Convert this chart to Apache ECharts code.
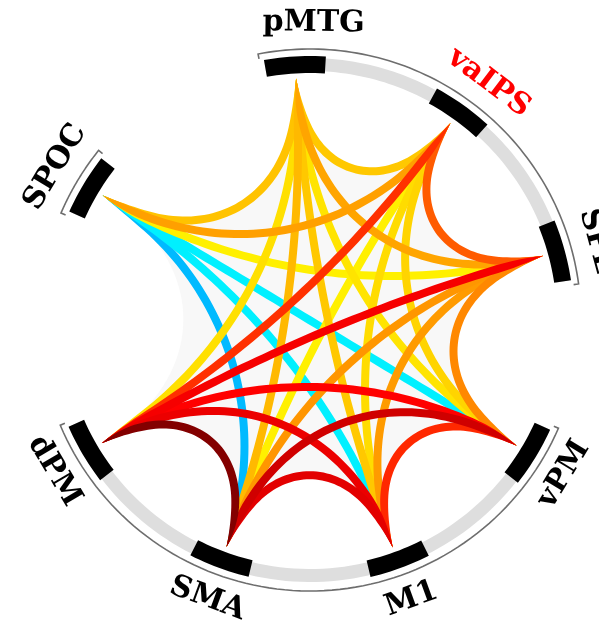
<!DOCTYPE html>
<html><head><meta charset="utf-8">
<script src="https://cdn.jsdelivr.net/npm/echarts/dist/echarts.min.js"></script>
<style>html,body{margin:0;padding:0;background:#fff}#chart{width:599px;height:623px}</style>
</head><body><div id="chart"></div>
<script>
// ---------------- data ----------------
const regions = ['pMTG', 'vaIPS', 'SPL', 'vPM', 'M1', 'SMA', 'dPM', 'SPOC'];
const highlightedRegions = ['vaIPS'];
const trackGroups = [['pMTG', 'SPL'], ['vPM', 'dPM'], ['SPOC', 'SPOC']];
const linkSource = ['SPOC','SPOC','SPOC','SPOC','SPOC','SPOC',
  'pMTG','pMTG','pMTG','pMTG','pMTG','pMTG',
  'vaIPS','vaIPS','vaIPS','vaIPS','vaIPS',
  'SPL','SPL','SPL','SPL',
  'vPM','vPM','vPM',
  'M1','M1',
  'SMA'];
const linkTarget = ['pMTG','vaIPS','SPL','vPM','M1','SMA',
  'vaIPS','SPL','vPM','M1','SMA','dPM',
  'SPL','vPM','M1','SMA','dPM',
  'vPM','M1','SMA','dPM',
  'M1','SMA','dPM',
  'SMA','dPM',
  'dPM'];
const linkStrength = [3.1, 3.8, 2.0, 1.0, 1.0, 0.1,
  3.0, 3.7, 2.3, 3.0, 3.3, 2.4,
  4.85, 2.7, 2.5, 2.0, 5.4,
  4.2, 3.9, 4.0, 6.2,
  5.5, 7.0, 6.0,
  6.6, 6.4,
  7.9];
const strengthColors = ['#00b4ff','#00f0ff','#fff000','#ffc800','#ff9600','#ff5000','#ff0000','#d00000','#7a0000'];

// ---------------- layout ----------------
const layout = {
  angle: { pMTG: 356.7, vaIPS: 35.5, SPL: 74.6, vPM: 121.3, M1: 160, SMA: 200.2, dPM: 239.4, SPOC: 301 },
  labelNudge: { pMTG: 4, vaIPS: 1.5 },
  blockSpan: 13.5,
  linkR: 242, bandIn: 249, bandOut: 262, blockIn: 247, blockOut: 264, lineR: 271, hookR: 266,
  labelR: 297, linkWidth: 8
};

const norm = a => ((a % 360) + 360) % 360;

function geodesic(api, a1, a2, r, n) {
  const O = api.coord([0, 0]);
  const P1 = api.coord([r, norm(a1)]), P2 = api.coord([r, norm(a2)]);
  let dd = Math.abs(norm(a1) - norm(a2)); if (dd > 180) dd = 360 - dd;
  const d = Math.min(dd, 179.9) * Math.PI / 180;
  const R = Math.hypot(P1[0] - O[0], P1[1] - O[1]);
  const deepen = 1 + 0.4 * Math.max(0, (100 - dd) / 100);
  const h = deepen * 4 / 3 * Math.tan((Math.PI - d) / 4) * R * Math.tan(d / 2);
  const C1 = [P1[0] + h * (O[0] - P1[0]) / R, P1[1] + h * (O[1] - P1[1]) / R];
  const C2 = [P2[0] + h * (O[0] - P2[0]) / R, P2[1] + h * (O[1] - P2[1]) / R];
  const pts = [];
  for (let i = 0; i <= n; i++) {
    const t = i / n, m = 1 - t;
    const b0 = m * m * m, b1 = 3 * m * m * t, b2 = 3 * m * t * t, b3 = t * t * t;
    pts.push([b0 * P1[0] + b1 * C1[0] + b2 * C2[0] + b3 * P2[0],
              b0 * P1[1] + b1 * C1[1] + b2 * C2[1] + b3 * P2[1]]);
  }
  return pts;
}

function ribbon(pts, W) {
  const n = pts.length - 1, L = [0];
  for (let i = 1; i <= n; i++) L.push(L[i - 1] + Math.hypot(pts[i][0] - pts[i - 1][0], pts[i][1] - pts[i - 1][1]));
  const tot = L[n], Lt = Math.min(50, tot * 0.3);
  const left = [], right = [];
  for (let i = 0; i <= n; i++) {
    const a = pts[Math.max(0, i - 1)], b = pts[Math.min(n, i + 1)];
    let dx = b[0] - a[0], dy = b[1] - a[1]; const len = Math.hypot(dx, dy) || 1;
    const nx = -dy / len, ny = dx / len;
    const f = Math.min(1, Math.min(L[i], tot - L[i]) / Lt);
    const hw = W / 2 * (1 - (1 - f) * (1 - f));
    left.push([pts[i][0] + nx * hw, pts[i][1] + ny * hw]);
    right.push([pts[i][0] - nx * hw, pts[i][1] - ny * hw]);
  }
  return left.concat(right.reverse());
}

function arcPts(api, r, a0, a1, n) {
  const pts = [];
  for (let i = 0; i <= n; i++) pts.push(api.coord([r, norm(a0 + (a1 - a0) * i / n)]));
  return pts;
}
function unwrapEnd(a0, a1) { while (a1 < a0) a1 += 360; return a1; }

// links sorted so stronger (hotter) links are drawn on top
const linkData = linkSource.map((s, i) => [regions.indexOf(s), regions.indexOf(linkTarget[i]), linkStrength[i]])
  .sort((p, q) => p[2] - q[2]);

const chart = echarts.init(document.getElementById('chart'), null, { renderer: 'canvas' });
chart.setOption({
  backgroundColor: '#ffffff',
  animation: false,
  polar: { center: [310, 320], radius: 275 },
  radiusAxis: { type: 'value', min: 0, max: 275, show: false },
  angleAxis: { type: 'value', min: 0, max: 360, startAngle: 90, clockwise: true, show: false },
  visualMap: {
    type: 'continuous', show: false, seriesIndex: 2, dimension: 2,
    min: 0, max: 8, inRange: { color: strengthColors }
  },
  series: [
    { // interior shading
      type: 'custom', coordinateSystem: 'polar', silent: true, data: [[0, 0]],
      renderItem: (params, api) => {
        let poly = [];
        regions.forEach((r, i) => {
          const nxt = regions[(i + 1) % regions.length];
          poly = poly.concat(geodesic(api, layout.angle[r], layout.angle[nxt], layout.linkR, 40));
        });
        return { type: 'polygon', shape: { points: poly }, style: { fill: '#f8f8f8' } };
      }
    },
    { // tracks
      type: 'custom', coordinateSystem: 'polar', silent: true,
      data: trackGroups.map(g => [regions.indexOf(g[0]), regions.indexOf(g[1])]),
      renderItem: (params, api) => {
        const a0 = layout.angle[regions[api.value(0)]] - layout.blockSpan / 2;
        const a1 = unwrapEnd(a0, layout.angle[regions[api.value(1)]] + layout.blockSpan / 2);
        const outer = arcPts(api, layout.bandOut, a0, a1, 80);
        const inner = arcPts(api, layout.bandIn, a0, a1, 80).reverse();
        const line = [api.coord([layout.hookR, norm(a0 - 1)])]
          .concat(arcPts(api, layout.lineR, a0 - 1, a1 + 1, 80))
          .concat([api.coord([layout.hookR, norm(a1 + 1)])]);
        return { type: 'group', children: [
          { type: 'polygon', shape: { points: outer.concat(inner) }, style: { fill: '#dedede' } },
          { type: 'polyline', shape: { points: line }, style: { stroke: '#6e6e6e', lineWidth: 1.6, fill: null } }
        ] };
      }
    },
    { // links
      type: 'custom', coordinateSystem: 'polar', silent: true, data: linkData,
      renderItem: (params, api) => {
        const a1 = layout.angle[regions[api.value(0)]], a2 = layout.angle[regions[api.value(1)]];
        const pts = geodesic(api, a1, a2, layout.linkR, 60);
        return { type: 'polygon', shape: { points: ribbon(pts, layout.linkWidth) },
          style: { fill: api.visual('color') } };
      }
    },
    { // region blocks + labels
      type: 'custom', coordinateSystem: 'polar', silent: true,
      data: regions.map((r, i) => [i, 0]),
      renderItem: (params, api) => {
        const name = regions[api.value(0)];
        const a = layout.angle[name];
        const a0 = a - layout.blockSpan / 2, a1 = a + layout.blockSpan / 2;
        const block = arcPts(api, layout.blockOut, a0, a1, 12).concat(arcPts(api, layout.blockIn, a0, a1, 12).reverse());
        const la = norm(a + (layout.labelNudge[name] || 0));
        const p = api.coord([layout.labelR, la]);
        const rotDeg = (la > 90 && la < 270) ? -(la - 180) : -la;
        return { type: 'group', children: [
          { type: 'polygon', shape: { points: block }, style: { fill: '#000000' } },
          { type: 'text', x: p[0], y: p[1], rotation: rotDeg * Math.PI / 180,
            style: { text: name, fill: highlightedRegions.includes(name) ? '#ff0000' : '#000000',
              font: 'bold 30px "DejaVu Serif", serif', align: 'center', verticalAlign: 'middle',
              textAlign: 'center', textVerticalAlign: 'middle' } }
        ] };
      }
    }
  ]
});
</script></body></html>
